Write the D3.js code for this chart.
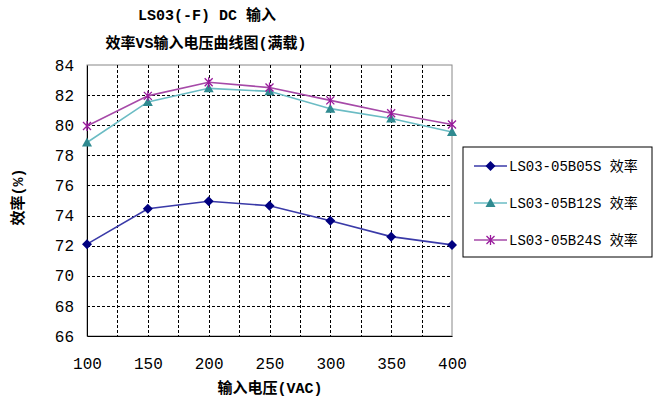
<!DOCTYPE html>
<html>
<head>
<meta charset="utf-8">
<script src="https://cdn.jsdelivr.net/npm/d3@7"></script>
<style>
  body { margin: 0; background: #fff; }
  text { font-family: "Liberation Mono", "Noto Sans CJK SC", monospace; fill: #000; }
</style>
</head>
<body>
<div id="chart"></div>
<script>
var svgWidth = 653;
var svgHeight = 403;

var margin = {top: 65, right: 200, bottom: 67, left: 87};
var width = 452 - margin.left;
var height = 336 - margin.top;

// Data
var voltages = [100, 150, 200, 250, 300, 350, 400];
var eff05 = [72.1, 74.45, 74.95, 74.65, 73.65, 72.6, 72.05];
var eff12 = [78.85, 81.55, 82.45, 82.25, 81.1, 80.45, 79.55];
var eff24 = [79.95, 81.95, 82.85, 82.5, 81.65, 80.8, 80.05];
var seriesNames = ["LS03-05B05S 效率", "LS03-05B12S 效率", "LS03-05B24S 效率"];
var yTicks = [66, 68, 70, 72, 74, 76, 78, 80, 82, 84];
var xTicks = [100, 150, 200, 250, 300, 350, 400];
var xGrid = d3.range(100, 401, 25);

var series = [
  {name: seriesNames[0], values: eff05, line: "#3a3aa8", fill: "#000080", marker: "diamond"},
  {name: seriesNames[1], values: eff12, line: "#6bbcc4", fill: "#2f8a90", marker: "triangle"},
  {name: seriesNames[2], values: eff24, line: "#a64aa8", fill: "#99199c", marker: "star"}
];

var svg = d3.select("#chart")
  .append("svg")
  .attr("width", svgWidth)
  .attr("height", svgHeight);

var chartGroup = svg.append("g")
  .attr("transform", `translate(${margin.left}, ${margin.top})`);

var x = d3.scaleLinear().domain([100, 400]).range([0, width]);
var y = d3.scaleLinear().domain([66, 84]).range([height, 0]);

// plot border
chartGroup.append("rect")
  .attr("width", width)
  .attr("height", height)
  .attr("fill", "none")
  .attr("stroke", "#888")
  .attr("stroke-width", 1);

// gridlines
chartGroup.selectAll(".hgrid")
  .data(yTicks.slice(1, -1))
  .enter()
  .append("line")
  .attr("x1", 0)
  .attr("x2", width)
  .attr("y1", d => Math.round(y(d)) + 0.5)
  .attr("y2", d => Math.round(y(d)) + 0.5)
  .attr("stroke", "#000")
  .attr("stroke-dasharray", "3,2");

chartGroup.selectAll(".vgrid")
  .data(xGrid.slice(1, -1))
  .enter()
  .append("line")
  .attr("x1", d => Math.round(x(d)) + 0.5)
  .attr("x2", d => Math.round(x(d)) + 0.5)
  .attr("y1", 0)
  .attr("y2", height)
  .attr("stroke", "#000")
  .attr("stroke-dasharray", "3,2");

// axes
var leftAxis = d3.axisLeft(y).tickValues(yTicks).tickSize(0).tickPadding(10);
var bottomAxis = d3.axisBottom(x).tickValues(xTicks).tickSize(0).tickPadding(22);

var yAxis = chartGroup.append("g").call(leftAxis);
yAxis.select(".domain").attr("stroke", "#000");
yAxis.selectAll("text").style("font-size", "16px").style("font-family", "Liberation Mono");
yAxis.selectAll("text").attr("x", -13);

var xAxis = chartGroup.append("g")
  .attr("transform", `translate(0, ${height})`)
  .call(bottomAxis);
xAxis.select(".domain").attr("stroke", "#000");
xAxis.selectAll("text").style("font-size", "16px").style("font-family", "Liberation Mono");

// lines
var line = d3.line()
  .x((d, i) => x(voltages[i]))
  .y(d => y(d));

chartGroup.selectAll(".series")
  .data(series)
  .enter()
  .append("path")
  .attr("d", d => line(d.values))
  .attr("fill", "none")
  .attr("stroke", d => d.line)
  .attr("stroke-width", 1.6);

function drawMarker(g, type, color) {
  if (type === "diamond") {
    g.append("path").attr("d", "M0,-5L5,0L0,5L-5,0Z").attr("fill", color);
  } else if (type === "triangle") {
    g.append("path").attr("d", "M0,-5L5,4L-5,4Z").attr("fill", color);
  } else {
    g.append("path")
      .attr("d", "M-4,-4L4,4M-4,4L4,-4M0,-5L0,5")
      .attr("stroke", color)
      .attr("stroke-width", 1.3)
      .attr("fill", "none");
  }
}

series.forEach(function(s) {
  s.values.forEach(function(v, i) {
    var g = chartGroup.append("g")
      .attr("transform", `translate(${x(voltages[i])}, ${y(v)})`);
    drawMarker(g, s.marker, s.fill);
  });
});

// titles
svg.append("text")
  .attr("x", 207)
  .attr("y", 20)
  .attr("text-anchor", "middle")
  .style("font-size", "15px")
  .style("font-weight", "bold")
  .text("LS03(-F) DC 输入");

svg.append("text")
  .attr("x", 206)
  .attr("y", 48)
  .attr("text-anchor", "middle")
  .style("font-size", "15px")
  .style("font-weight", "bold")
  .text("效率VS输入电压曲线图(满载)");

svg.append("text")
  .attr("x", 270)
  .attr("y", 393)
  .attr("text-anchor", "middle")
  .style("font-size", "15px")
  .style("font-weight", "bold")
  .text("输入电压(VAC)");

svg.append("text")
  .attr("transform", "translate(23, 197) rotate(-90)")
  .attr("text-anchor", "middle")
  .style("font-size", "15px")
  .style("font-weight", "bold")
  .text("效率(%)");

// legend
var legend = svg.append("g").attr("transform", "translate(463, 147)");
legend.append("rect")
  .attr("width", 189)
  .attr("height", 110)
  .attr("fill", "#fff")
  .attr("stroke", "#000");

series.forEach(function(s, i) {
  var ly = 19 + i * 37;
  legend.append("line")
    .attr("x1", 11).attr("x2", 44)
    .attr("y1", ly).attr("y2", ly)
    .attr("stroke", s.line)
    .attr("stroke-width", 1.6);
  var g = legend.append("g").attr("transform", `translate(27.5, ${ly})`);
  drawMarker(g, s.marker, s.fill);
  legend.append("text")
    .attr("x", 46)
    .attr("y", ly + 5)
    .style("font-size", "14px")
    .text(s.name);
});
</script>
</body>
</html>
